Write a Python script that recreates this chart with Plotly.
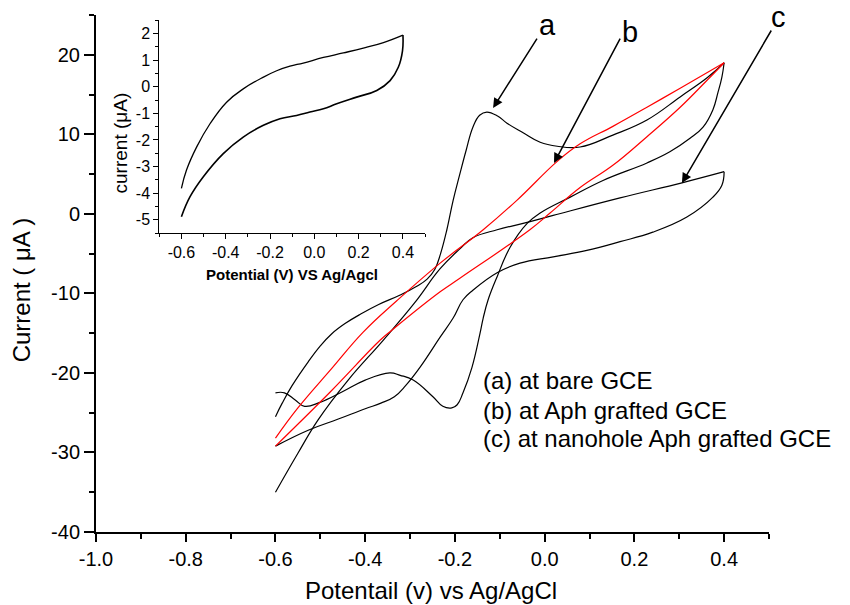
import plotly.graph_objects as go

# ---------------- data ----------------
# curve (a) bare GCE
a_fwd_x = [-0.600, -0.585, -0.563, -0.527, -0.500, -0.475, -0.445, -0.410, -0.370, -0.322, -0.285,
           -0.262, -0.245, -0.232, -0.218, -0.204, -0.190, -0.175, -0.160, -0.145, -0.129, -0.105,
           -0.084, -0.048, -0.010, 0.028, 0.079, 0.152, 0.228, 0.302, 0.362, 0.400]
a_fwd_y = [-25.5, -23.8, -21.6, -18.6, -16.6, -15.1, -13.8, -12.6, -11.4, -10.2, -9.1,
           -8.2, -7.0, -5.0, -2.0, 1.7, 4.8, 8.0, 10.9, 12.4, 12.8, 12.3,
           11.4, 10.2, 9.0, 8.5, 8.4, 9.9, 11.8, 14.7, 17.1, 19.0]
a_rev_x = [0.400, 0.395, 0.386, 0.375, 0.353, 0.324, 0.279, 0.228, 0.130, 0.057, -0.010, -0.039,
           -0.077, -0.106, -0.126, -0.137, -0.144, -0.162, -0.182, -0.195, -0.207, -0.227,
           -0.249, -0.293, -0.322, -0.345, -0.400, -0.452, -0.501, -0.535, -0.556, -0.580, -0.600]
a_rev_y = [19.0, 17.2, 15.2, 13.1, 10.9, 9.5, 7.8, 6.4, 4.2, 2.1, 0.1, -1.2,
           -4.2, -7.9, -10.8, -13.1, -15.0, -19.3, -22.5, -24.0, -24.4, -24.2,
           -23.0, -20.9, -20.3, -20.0, -20.9, -22.4, -23.7, -24.2, -23.4, -22.5, -22.5]

# curve (b) Aph grafted GCE (red)
b_fwd_x = [-0.600, -0.550, -0.474, -0.405, -0.329, -0.233, -0.137, -0.062, 0.028, 0.079, 0.152,
           0.228, 0.302, 0.400]
b_fwd_y = [-28.2, -24.4, -19.4, -14.9, -10.9, -6.2, -2.0, 1.7, 6.6, 8.8, 11.0,
           13.4, 15.8, 19.0]
b_rev_x = [0.400, 0.362, 0.302, 0.228, 0.152, 0.079, 0.012, -0.033, -0.189, -0.233, -0.340,
           -0.367, -0.478, -0.600]
b_rev_y = [19.0, 16.8, 13.4, 9.7, 6.1, 3.3, 0.1, -2.0, -8.1, -9.8, -14.6,
           -15.9, -22.4, -29.2]

# curve (c) nanohole Aph grafted GCE
c_fwd_x = [-0.600, -0.550, -0.505, -0.438, -0.360, -0.290, -0.233, -0.189, -0.160, -0.106, -0.048,
           0.019, 0.168, 0.306, 0.400]
c_fwd_y = [-35.0, -30.1, -25.9, -20.9, -15.9, -11.2, -6.9, -4.4, -3.0, -2.0, -1.2,
           -0.2, 2.0, 3.9, 5.3]
c_rev_x = [0.400, 0.395, 0.375, 0.317, 0.241, 0.168, 0.094, 0.019, -0.055, -0.106, -0.160,
           -0.182, -0.204, -0.233, -0.278, -0.310, -0.335, -0.365, -0.400, -0.460, -0.527, -0.600]
c_rev_y = [5.3, 3.6, 2.1, -0.4, -2.3, -3.5, -4.6, -5.4, -6.2, -7.4, -9.6,
           -10.8, -13.1, -15.5, -19.3, -21.6, -23.0, -23.8, -24.5, -25.8, -27.2, -29.2]

# inset
ins_fwd_x = [-0.600, -0.577, -0.531, -0.471, -0.396, -0.321, -0.230, -0.170, -0.110, -0.050,
             0.041, 0.131, 0.221, 0.312, 0.400]
ins_fwd_y = [-3.82, -3.13, -2.26, -1.39, -0.58, -0.08, 0.36, 0.60, 0.77, 0.89,
             1.10, 1.27, 1.45, 1.66, 1.94]
ins_rev_x = [0.400, 0.398, 0.379, 0.342, 0.282, 0.191, 0.101, 0.041, -0.020, -0.080, -0.155,
             -0.230, -0.321, -0.411, -0.501, -0.561, -0.600]
ins_rev_y = [1.94, 1.35, 0.73, 0.23, -0.14, -0.39, -0.64, -0.83, -0.95, -1.08, -1.20,
             -1.45, -1.89, -2.51, -3.38, -4.13, -4.88]

# tick labels
main_xtick_vals = [-1.0, -0.8, -0.6, -0.4, -0.2, 0.0, 0.2, 0.4]
main_xtick_text = ["-1.0", "-0.8", "-0.6", "-0.4", "-0.2", "0.0", "0.2", "0.4"]
main_ytick_vals = [-40, -30, -20, -10, 0, 10, 20]
main_ytick_text = ["-40", "-30", "-20", "-10", "0", "10", "20"]
ins_xtick_vals = [-0.6, -0.4, -0.2, 0.0, 0.2, 0.4]
ins_xtick_text = ["-0.6", "-0.4", "-0.2", "0.0", "0.2", "0.4"]
ins_ytick_vals = [-5, -4, -3, -2, -1, 0, 1, 2]
ins_ytick_text = ["-5", "-4", "-3", "-2", "-1", "0", "1", "2"]

legend_lines = ["(a) at bare GCE", "(b) at Aph grafted GCE", "(c) at nanohole Aph grafted GCE"]

FONT = "Liberation Sans, Arial, sans-serif"

fig = go.Figure()

def add(xs, ys, color, width, xa="x", ya="y"):
    fig.add_trace(go.Scatter(x=xs, y=ys, mode="lines", xaxis=xa, yaxis=ya,
                             line=dict(color=color, width=width, shape="spline", smoothing=1.2),
                             showlegend=False, hoverinfo="skip"))

add(a_fwd_x, a_fwd_y, "black", 1.2)
add(a_rev_x, a_rev_y, "black", 1.2)
add(c_fwd_x, c_fwd_y, "black", 1.2)
add(c_rev_x, c_rev_y, "black", 1.2)
add(b_fwd_x, b_fwd_y, "#ff0000", 1.2)
add(b_rev_x, b_rev_y, "#ff0000", 1.2)
add(ins_fwd_x, ins_fwd_y, "black", 1.3, "x2", "y2")
add(ins_rev_x, ins_rev_y, "black", 1.6, "x2", "y2")

axis_common = dict(showgrid=False, zeroline=False, showline=True, linecolor="black",
                   ticks="outside", tickcolor="black", tickmode="array", mirror=False)

fig.update_layout(
    width=850, height=605,
    margin=dict(l=96, r=81, t=15, b=73),
    paper_bgcolor="white", plot_bgcolor="white",
    font=dict(family=FONT, color="black"),
    xaxis=dict(**axis_common, domain=[0, 1], anchor="y", range=[-1.0, 0.5],
               linewidth=2, ticklen=8, tickwidth=2,
               tickvals=main_xtick_vals, ticktext=main_xtick_text,
               tickfont=dict(size=20, family=FONT),
               minor=dict(ticks="outside", dtick=0.1, tick0=0, ticklen=5, tickwidth=1.5,
                          tickcolor="black", showgrid=False)),
    yaxis=dict(**axis_common, domain=[0, 1], anchor="x", range=[-40, 25],
               linewidth=2, ticklen=10, tickwidth=2,
               tickvals=main_ytick_vals, ticktext=main_ytick_text,
               tickfont=dict(size=20, family=FONT),
               minor=dict(ticks="outside", dtick=5, tick0=0, ticklen=5, tickwidth=1.5,
                          tickcolor="black", showgrid=False)),
    xaxis2=dict(**axis_common, domain=[0.094, 0.489], anchor="y2", range=[-0.7, 0.5],
                linewidth=1, ticklen=5, tickwidth=1,
                tickvals=ins_xtick_vals, ticktext=ins_xtick_text,
                tickfont=dict(size=16, family=FONT),
                minor=dict(ticks="outside", dtick=0.1, tick0=0, ticklen=3, tickwidth=1,
                           tickcolor="black", showgrid=False)),
    yaxis2=dict(**axis_common, domain=[0.578, 0.990], anchor="x2", range=[-5.5, 2.5],
                linewidth=1, ticklen=5, tickwidth=1,
                tickvals=ins_ytick_vals, ticktext=ins_ytick_text,
                tickfont=dict(size=16, family=FONT),
                minor=dict(ticks="outside", dtick=0.5, tick0=0, ticklen=3, tickwidth=1,
                           tickcolor="black", showgrid=False)),
)

ann = []
# axis titles
ann.append(dict(text="Current ( μA )", xref="paper", yref="paper", x=-0.111, y=0.468,
                textangle=-90, showarrow=False, xanchor="center", yanchor="middle",
                font=dict(size=24, family=FONT)))
ann.append(dict(text="Potentail (v) vs Ag/AgCl", xref="paper", yref="paper", x=0.4985, y=-0.114,
                showarrow=False, xanchor="center", yanchor="middle",
                font=dict(size=24, family=FONT)))
ann.append(dict(text="current (μA)", xref="paper", yref="paper", x=0.0371, y=0.7534,
                textangle=-90, showarrow=False, xanchor="center", yanchor="middle",
                font=dict(size=19, family=FONT)))
ann.append(dict(text="<b>Potential (V) VS Ag/Agcl</b>", xref="paper", yref="paper", x=0.2905, y=0.499,
                showarrow=False, xanchor="center", yanchor="middle",
                font=dict(size=15, family=FONT)))
# legend text
for txt, yy in zip(legend_lines, [-21.0, -24.7, -28.3]):
    ann.append(dict(text=txt, x=-0.142, y=yy, xref="x", yref="y", showarrow=False,
                    xanchor="left", yanchor="middle", font=dict(size=24, family=FONT)))
# curve labels (paper coordinates so that "c" beyond the axis end is still shown)
for txt, px, py in [("a", 0.6716, 0.9807), ("b", 0.7934, 0.9671), ("c", 1.0134, 0.9961)]:
    ann.append(dict(text=txt, x=px, y=py, xref="paper", yref="paper", showarrow=False,
                    xanchor="center", yanchor="middle", font=dict(size=29, family=FONT)))
# arrows
for hx, hy, tx, ty in [(-0.115, 13.31, -0.015, 22.23),
                       (0.0208, 6.39, 0.170, 22.23),
                       (0.306, 3.88, 0.507, 23.24)]:
    ann.append(dict(text="", x=hx, y=hy, ax=tx, ay=ty, xref="x", yref="y", axref="x", ayref="y",
                    showarrow=True, arrowhead=2, arrowsize=1.3, arrowwidth=1.5,
                    arrowcolor="black", standoff=0, startstandoff=0))
fig.update_layout(annotations=ann)

fig.write_html("out.html")
